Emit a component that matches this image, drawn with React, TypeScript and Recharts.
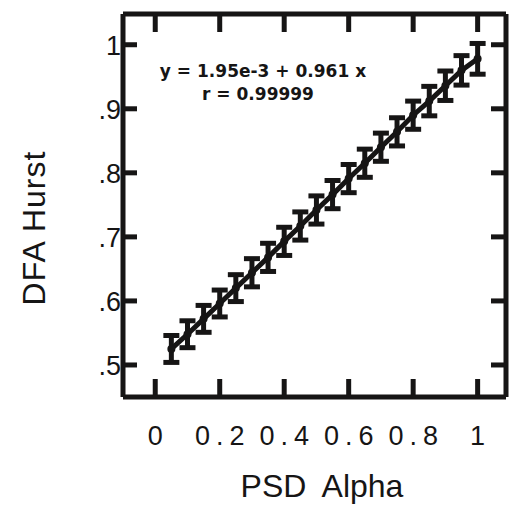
import React from 'react';
import { ComposedChart, Line, XAxis, YAxis, ErrorBar, Customized, ReferenceArea } from 'recharts';

const psdAlpha = [0.05, 0.1, 0.15, 0.2, 0.25, 0.3, 0.35, 0.4, 0.45, 0.5, 0.55, 0.6, 0.65, 0.7, 0.75, 0.8, 0.85, 0.9, 0.95, 1.0];
const dfaHurst = [0.525, 0.548, 0.572, 0.596, 0.62, 0.644, 0.668, 0.693, 0.717, 0.742, 0.766, 0.791, 0.815, 0.84, 0.864, 0.89, 0.912, 0.936, 0.96, 0.978];
const hurstErr = [0.021, 0.021, 0.021, 0.021, 0.021, 0.022, 0.022, 0.022, 0.022, 0.022, 0.022, 0.022, 0.022, 0.022, 0.022, 0.022, 0.023, 0.023, 0.023, 0.024];

const xTicks = [0, 0.2, 0.4, 0.6, 0.8, 1];
const xTickLabels = ['0', '0.2', '0.4', '0.6', '0.8', '1'];
const yTicks = [0.5, 0.6, 0.7, 0.8, 0.9, 1];
const yTickLabels = ['.5', '.6', '.7', '.8', '.9', '1'];

const xTitle = 'PSD Alpha';
const yTitle = 'DFA Hurst';
const fitLine = 'y = 1.95e-3 + 0.961 x';
const rLine = 'r = 0.99999';

const data = psdAlpha.map((x, i) => ({ x, y: dfaHurst[i], err: hurstErr[i] }));

const INK = '#161515';
const FONT = '"Liberation Sans", Arial, Helvetica, sans-serif';
const SW = 5;

const BottomTick = (props: any) => {
  const { x, y, payload } = props;
  const i = xTicks.indexOf(payload.value);
  return (
    <g>
      <line x1={x} y1={y} x2={x} y2={y - 18} stroke={INK} strokeWidth={SW} />
      <text x={x + 3} y={y + 48} textAnchor="middle" fontSize={27} fontFamily={FONT} fill={INK} letterSpacing={6}>
        {xTickLabels[i]}
      </text>
    </g>
  );
};

const TopTick = (props: any) => {
  const { x, y } = props;
  return <line x1={x} y1={y} x2={x} y2={y + 18} stroke={INK} strokeWidth={SW} />;
};

const LeftTick = (props: any) => {
  const { x, y, payload } = props;
  const i = yTicks.indexOf(payload.value);
  return (
    <g>
      <line x1={x} y1={y} x2={x + 14} y2={y} stroke={INK} strokeWidth={SW} />
      <text x={x - 2} y={y + 10} textAnchor="end" fontSize={27} fontFamily={FONT} fill={INK}>
        {yTickLabels[i]}
      </text>
    </g>
  );
};

const RightTick = (props: any) => {
  const { x, y } = props;
  return <line x1={x} y1={y} x2={x - 15} y2={y} stroke={INK} strokeWidth={SW} />;
};

const Annotations = () => (
  <g>
    <text x={263} y={77} textAnchor="middle" fontSize={17} fontWeight="bold" fontFamily='"DejaVu Sans", Verdana, sans-serif' fill={INK}>
      {fitLine}
    </text>
    <text x={258} y={100} textAnchor="middle" fontSize={17} fontWeight="bold" fontFamily='"DejaVu Sans", Verdana, sans-serif' fill={INK}>
      {rLine}
    </text>
    <text x={322} y={497} textAnchor="middle" fontSize={32} fontFamily={FONT} fill={INK} wordSpacing={8}>
      {xTitle}
    </text>
    <text x={45} y={228} textAnchor="middle" fontSize={32} fontFamily={FONT} fill={INK} transform="rotate(-90 45 228)" letterSpacing={1}>
      {yTitle}
    </text>
  </g>
);

export default function App() {
  return (
    <div style={{ position: 'absolute', left: 0, top: 0, width: 509, height: 506, background: '#fff' }}>
      <ComposedChart width={509} height={506} data={data} margin={{ top: 13, right: 2, bottom: 0, left: 0 }}>
        <XAxis
          xAxisId="b"
          type="number"
          dataKey="x"
          domain={[-0.1, 1.088]}
          ticks={xTicks}
          interval={0}
          allowDataOverflow
          height={109}
          tickSize={0}
          tickMargin={0}
          axisLine={{ stroke: INK, strokeWidth: SW }}
          tickLine={false}
          tick={BottomTick}
        />
        <XAxis
          xAxisId="t"
          orientation="top"
          type="number"
          dataKey="x"
          domain={[-0.1, 1.088]}
          ticks={xTicks}
          interval={0}
          allowDataOverflow
          height={1}
          tickSize={0}
          tickMargin={0}
          axisLine={{ stroke: INK, strokeWidth: SW }}
          tickLine={false}
          tick={TopTick}
        />
        <YAxis
          yAxisId="l"
          type="number"
          domain={[0.45, 1.048]}
          ticks={yTicks}
          interval={0}
          allowDataOverflow
          width={123}
          tickSize={0}
          tickMargin={0}
          axisLine={{ stroke: INK, strokeWidth: SW }}
          tickLine={false}
          tick={LeftTick}
        />
        <YAxis
          yAxisId="r"
          orientation="right"
          type="number"
          domain={[0.45, 1.048]}
          ticks={yTicks}
          interval={0}
          allowDataOverflow
          width={1}
          tickSize={0}
          tickMargin={0}
          axisLine={{ stroke: INK, strokeWidth: SW }}
          tickLine={false}
          tick={RightTick}
        />
        <ReferenceArea
          xAxisId="b"
          yAxisId="l"
          fill="none"
          fillOpacity={0}
          stroke={INK}
          strokeWidth={SW}
          ifOverflow="visible"
        />
        <Line
          xAxisId="t"
          yAxisId="r"
          dataKey="y"
          stroke="none"
          dot={false}
          activeDot={false}
          legendType="none"
          isAnimationActive={false}
        />
        <Line
          xAxisId="b"
          yAxisId="l"
          dataKey="y"
          stroke={INK}
          strokeWidth={SW}
          dot={{ r: 4, fill: INK, stroke: 'none' }}
          isAnimationActive={false}
        >
          <ErrorBar dataKey="err" direction="y" width={8} stroke={INK} strokeWidth={SW} />
        </Line>
        <Customized component={Annotations} />
      </ComposedChart>
    </div>
  );
}
